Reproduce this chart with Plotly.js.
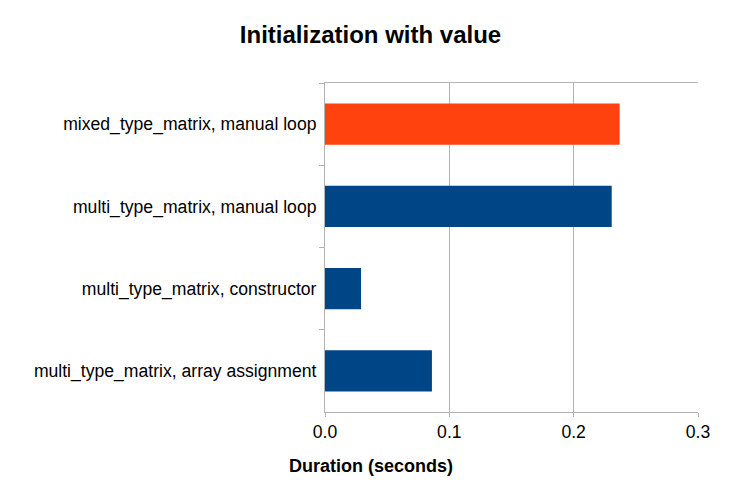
<!DOCTYPE html>
<html>
<head>
<meta charset="utf-8">
<script src="https://cdn.plot.ly/plotly-3.0.1.min.js"></script>
<style>html,body{margin:0;padding:0;background:#fff;}</style>
</head>
<body>
<div id="chart" style="width:741px;height:495px;"></div>
<script>
const categories = [
  "mixed_type_matrix, manual loop",
  "multi_type_matrix, manual loop",
  "multi_type_matrix, constructor",
  "multi_type_matrix, array assignment"
];
const durations = [0.237, 0.2306, 0.029, 0.086];
const barColors = ["#ff420e", "#004586", "#004586", "#004586"];
const xTicks = [0, 0.1, 0.2, 0.3];
const xTickLabels = ["0.0", "0.1", "0.2", "0.3"];
const xAxisTitle = "<b>Duration (seconds)</b>";

const trace = {
  type: "bar",
  orientation: "h",
  y: categories,
  x: durations,
  marker: {color: barColors},
  hoverinfo: "x+y"
};

const layout = {
  width: 741,
  height: 495,
  paper_bgcolor: "#ffffff",
  plot_bgcolor: "#ffffff",
  font: {family: "Liberation Sans, Arial, sans-serif", color: "#000000", size: 17.6},
  title: {
    text: "<b>Initialization with value</b>",
    font: {size: 24, family: "Liberation Sans, Arial, sans-serif", color: "#000"},
    x: 0.5, xanchor: "center", y: 0.93, yanchor: "middle"
  },
  margin: {l: 325, r: 43, t: 83, b: 83},
  bargap: 0.5,
  showlegend: false,
  xaxis: {
    range: [0, 0.3],
    tickvals: xTicks,
    ticktext: xTickLabels,
    showgrid: true,
    gridcolor: "#b3b3b3",
    gridwidth: 1,
    zeroline: false,
    showline: true,
    linecolor: "#b3b3b3",
    mirror: true,
    ticks: "outside",
    ticklen: 4,
    tickcolor: "#b3b3b3",
    tickfont: {size: 17.6}
  },
  yaxis: {
    type: "category",
    autorange: "reversed",
    showgrid: false,
    zeroline: false,
    showline: true,
    linecolor: "#b3b3b3",
    ticks: "outside",
    tickson: "boundaries",
    ticklen: 5,
    tickcolor: "#b3b3b3",
    ticklabelstandoff: 4,
    tickfont: {size: 17.6}
  },
  annotations: [{
    text: xAxisTitle,
    xref: "paper", yref: "paper",
    x: 0.122, y: -0.164,
    xanchor: "center", yanchor: "middle",
    showarrow: false,
    font: {size: 18}
  }]
};

Plotly.newPlot("chart", [trace], layout, {displayModeBar: false, staticPlot: true});
</script>
</body>
</html>
